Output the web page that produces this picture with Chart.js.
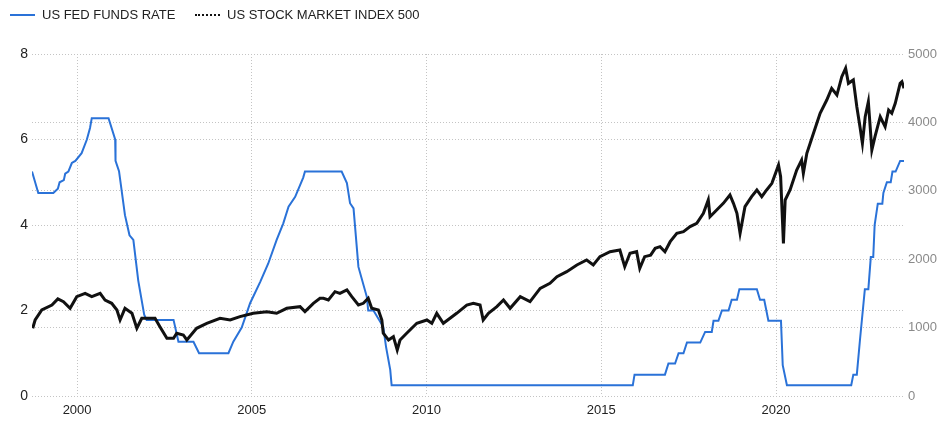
<!DOCTYPE html>
<html>
<head>
<meta charset="utf-8">
<script src="https://cdn.jsdelivr.net/npm/chart.js@4.4.0/dist/chart.umd.min.js"></script>
<style>
  body { margin: 0; background: #fff; }
  #wrap { position: relative; width: 944px; height: 440px; font-family: "Liberation Sans", Arial, sans-serif; }
  .item { position: absolute; top: 7px; font-size: 13px; color: #222; line-height: 16px; white-space: nowrap; }
  .swatch { position: absolute; top: 14px; width: 25px; height: 0; }
</style>
</head>
<body>
<div id="wrap">
  <div class="swatch" style="left:10px;border-top:2px solid #2a72d8;"></div>
  <div class="item" style="left:42px;">US FED FUNDS RATE</div>
  <div class="swatch" style="left:195px;border-top:2px dotted #111;"></div>
  <div class="item" style="left:227px;">US STOCK MARKET INDEX 500</div>
  <canvas id="chart" width="944" height="440"></canvas>
</div>
<script>
// Fed funds rate (left axis, %)
const fedYears = [1998.71, 1998.89, 1999.32, 1999.45, 1999.50, 1999.62, 1999.66, 1999.75, 1999.85, 1999.95,
  2000.13, 2000.28, 2000.37, 2000.42, 2000.90, 2001.09, 2001.10, 2001.20, 2001.37, 2001.50, 2001.61, 2001.75,
  2001.92, 2001.99, 2002.76, 2002.90, 2003.33, 2003.49, 2004.33, 2004.47, 2004.71, 2004.95, 2005.24, 2005.47,
  2005.71, 2005.90, 2006.05, 2006.24, 2006.47, 2006.52, 2007.57, 2007.72, 2007.81, 2007.91, 2008.05, 2008.29,
  2008.33, 2008.48, 2008.76, 2008.84, 2008.96, 2009.00, 2015.90, 2015.95, 2016.82, 2016.92, 2017.11, 2017.21,
  2017.35, 2017.45, 2017.83, 2017.97, 2018.16, 2018.21, 2018.35, 2018.45, 2018.64, 2018.73, 2018.88, 2018.95,
  2019.45, 2019.54, 2019.66, 2019.78, 2020.14, 2020.19, 2020.31, 2022.15, 2022.21, 2022.31, 2022.40, 2022.54,
  2022.64, 2022.71, 2022.78, 2022.82, 2022.91, 2023.04, 2023.07, 2023.17, 2023.28, 2023.33, 2023.42, 2023.55, 2023.66];
const fedRates = [5.25, 4.75, 4.75, 4.85, 5.0, 5.05, 5.2, 5.25, 5.45, 5.5,
  5.68, 6.0, 6.27, 6.5, 6.5, 6.0, 5.5, 5.26, 4.23, 3.76, 3.65, 2.7,
  1.9, 1.78, 1.78, 1.27, 1.27, 1.0, 1.0, 1.27, 1.6, 2.17, 2.67, 3.1,
  3.65, 4.04, 4.43, 4.66, 5.11, 5.25, 5.25, 4.98, 4.51, 4.39, 3.02, 2.32,
  2.0, 2.0, 1.62, 1.15, 0.61, 0.25, 0.25, 0.5, 0.5, 0.76, 0.76, 1.0,
  1.0, 1.25, 1.25, 1.5, 1.5, 1.76, 1.76, 2.0, 2.0, 2.25, 2.25, 2.5,
  2.5, 2.25, 2.25, 1.76, 1.76, 0.72, 0.25, 0.25, 0.5, 0.5, 1.31, 2.5,
  2.5, 3.25, 3.25, 4.0, 4.5, 4.5, 4.75, 5.0, 5.0, 5.25, 5.25, 5.5, 5.5];

// Stock index (right axis, points)
const spxYears = [1998.73, 1998.80, 1998.99, 1999.28, 1999.45, 1999.61, 1999.80, 1999.99, 2000.23, 2000.42,
  2000.66, 2000.80, 2000.99, 2001.14, 2001.23, 2001.37, 2001.57, 2001.71, 2001.85, 2002.09, 2002.23, 2002.37,
  2002.57, 2002.76, 2002.85, 2003.04, 2003.14, 2003.42, 2003.71, 2004.09, 2004.38, 2004.66, 2005.04, 2005.43,
  2005.71, 2006.00, 2006.38, 2006.52, 2006.76, 2006.95, 2007.05, 2007.19, 2007.38, 2007.52, 2007.72, 2007.86,
  2008.05, 2008.19, 2008.33, 2008.43, 2008.62, 2008.72, 2008.76, 2008.91, 2009.05, 2009.16, 2009.24, 2009.43,
  2009.72, 2010.01, 2010.15, 2010.29, 2010.48, 2010.86, 2011.15, 2011.34, 2011.53, 2011.62, 2011.77, 2012.01,
  2012.20, 2012.39, 2012.68, 2012.96, 2013.25, 2013.53, 2013.73, 2014.01, 2014.30, 2014.58, 2014.77, 2014.96,
  2015.25, 2015.53, 2015.67, 2015.82, 2016.01, 2016.10, 2016.24, 2016.41, 2016.54, 2016.68, 2016.82, 2016.97,
  2017.16, 2017.35, 2017.54, 2017.73, 2017.92, 2018.06, 2018.11, 2018.30, 2018.49, 2018.68, 2018.78, 2018.88,
  2018.97, 2019.11, 2019.30, 2019.45, 2019.59, 2019.73, 2019.88, 2020.07, 2020.13, 2020.21, 2020.26, 2020.40,
  2020.59, 2020.73, 2020.78, 2020.88, 2021.07, 2021.26, 2021.45, 2021.59, 2021.74, 2021.88, 2021.99, 2022.07,
  2022.21, 2022.31, 2022.40, 2022.47, 2022.55, 2022.64, 2022.74, 2022.83, 2022.98, 2023.12, 2023.22, 2023.31,
  2023.41, 2023.55, 2023.60, 2023.66];
const spxValues = [990, 1111, 1257, 1330, 1420, 1379, 1282, 1452, 1501, 1452,
  1501, 1403, 1355, 1257, 1111, 1282, 1209, 990, 1136, 1136, 1136, 1013,
  844, 844, 917, 892, 819, 990, 1063, 1136, 1111, 1160, 1209, 1233,
  1209, 1282, 1306, 1233, 1355, 1428, 1428, 1403, 1525, 1501, 1550, 1452,
  1330, 1355, 1428, 1282, 1257, 1111, 917, 819, 867, 673, 819, 917,
  1063, 1111, 1063, 1209, 1063, 1209, 1330, 1355, 1330, 1111, 1209, 1306,
  1403, 1282, 1452, 1379, 1574, 1648, 1744, 1818, 1915, 1988, 1915, 2037,
  2110, 2134, 1890, 2086, 2110, 1866, 2037, 2060, 2159, 2183, 2110, 2256,
  2378, 2403, 2476, 2525, 2671, 2866, 2621, 2719, 2817, 2939, 2817, 2671,
  2378, 2768, 2914, 3012, 2914, 3012, 3109, 3377, 3206, 2232, 2866, 3012,
  3304, 3450, 3255, 3548, 3840, 4133, 4327, 4498, 4400, 4668, 4791, 4571,
  4620, 4230, 3937, 3694, 4083, 4303, 3596, 3791, 4083, 3937, 4181, 4133,
  4279, 4571, 4595, 4498];

const xTicks = [2000, 2005, 2010, 2015, 2020];
const leftTicks = [0, 2, 4, 6, 8];
const rightTicks = [0, 1000, 2000, 3000, 4000, 5000];

Chart.defaults.font.family = '"Liberation Sans", Arial, sans-serif';

const gridColor = "#c4c4c4";
const dots = [1, 2];

const ctx = document.getElementById("chart").getContext("2d");
const chart = new Chart(ctx, {
  type: "line",
  data: {
    datasets: [
      {
        label: "US STOCK MARKET INDEX 500",
        data: spxYears.map((x, i) => ({ x: x, y: spxValues[i] })),
        yAxisID: "y1",
        borderColor: "#111",
        borderWidth: 3,
        pointRadius: 0,
        tension: 0,
        order: 1
      },
      {
        label: "US FED FUNDS RATE",
        data: fedYears.map((x, i) => ({ x: x, y: fedRates[i] })),
        yAxisID: "y",
        borderColor: "#2a72d8",
        borderWidth: 2,
        pointRadius: 0,
        tension: 0,
        order: 2
      }
    ]
  },
  options: {
    responsive: false,
    animation: false,
    devicePixelRatio: 1,
    layout: { padding: { top: 54, left: 0, right: 0, bottom: 0 } },
    plugins: { legend: { display: false }, tooltip: { enabled: false } },
    scales: {
      x: {
        type: "linear",
        min: 1998.71,
        max: 2023.66,
        afterBuildTicks: s => { s.ticks = xTicks.map(v => ({ value: v })); },
        afterFit: s => { s.height = 44; },
        ticks: { color: "#222", font: { size: 13 }, padding: 7, callback: v => String(v), maxRotation: 0 },
        grid: { color: gridColor, drawTicks: false },
        border: { display: false, dash: dots }
      },
      y: {
        position: "left",
        min: 0,
        max: 8,
        afterBuildTicks: s => { s.ticks = leftTicks.map(v => ({ value: v })); },
        afterFit: s => { s.width = 32; },
        ticks: { color: "#222", font: { size: 14 }, padding: 4 },
        grid: { color: gridColor, drawTicks: false },
        border: { display: false, dash: dots }
      },
      y1: {
        position: "right",
        min: 0,
        max: 5000,
        afterBuildTicks: s => { s.ticks = rightTicks.map(v => ({ value: v })); },
        afterFit: s => { s.width = 40; },
        ticks: { color: "#8a8a8a", font: { size: 13 }, padding: 4, callback: v => String(v) },
        grid: { color: gridColor, drawTicks: false },
        border: { display: false, dash: dots }
      }
    }
  }
});
</script>
</body>
</html>
